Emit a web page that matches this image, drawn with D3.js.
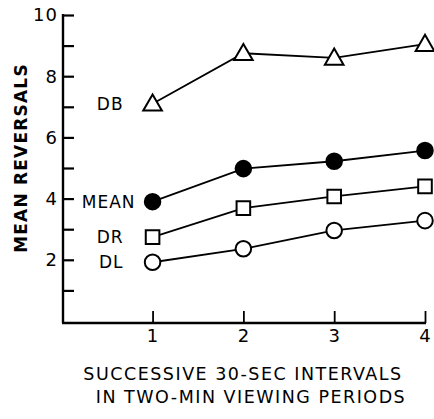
<!DOCTYPE html>
<html lang="en">
<head>
  <meta charset="UTF-8">
  <script src="https://d3js.org/d3.v7.min.js"></script>
  <title>reversals</title>
  <style>
    body { margin: 0; background: #fff; }
    text { font-family: "DejaVu Sans", sans-serif; fill: #000; }
  </style>
</head>
<body>
</body>
<script>
  // data
  let intervals = [1, 2, 3, 4]
  let seriesNames = ['DB', 'MEAN', 'DR', 'DL']
  let dbValues = [7.1, 8.75, 8.6, 9.05]
  let meanValues = [3.9, 4.98, 5.22, 5.57]
  let drValues = [2.74, 3.69, 4.07, 4.4]
  let dlValues = [1.92, 2.36, 2.96, 3.28]
  let yTickLabels = [2, 4, 6, 8, 10]
  let xTitle = ['SUCCESSIVE 30-SEC INTERVALS', 'IN TWO-MIN VIEWING PERIODS']
  let yTitle = 'MEAN REVERSALS'

  let width = 434
  let height = 419

  let svg = d3.select('body')
    .append('svg')
    .attr('width', width)
    .attr('height', height)

  let x = d3.scaleLinear()
    .domain([0.3, 4])
    .range([89, 425])

  let y = d3.scaleLinear()
    .domain([0, 10])
    .range([321, 15])

  let x0 = 63

  // y axis: inward ticks every unit, labels on even values
  let yAxis = d3.axisRight(y)
    .tickValues(d3.range(1, 11))
    .tickSize(11)
    .tickFormat('')
  let gy = svg.append('g')
    .attr('transform', `translate(${x0},0)`)
    .call(yAxis)
  gy.select('.domain').remove()
  gy.selectAll('.tick line').attr('stroke-width', 2.2)

  svg.append('line')
    .attr('x1', x0).attr('x2', x0)
    .attr('y1', y(10) - 1).attr('y2', 323)
    .attr('stroke', '#000').attr('stroke-width', 2.4)

  svg.selectAll('.ylab')
    .data(yTickLabels)
    .enter()
    .append('text')
    .attr('class', 'ylab')
    .attr('x', x0 - 5)
    .attr('y', d => y(d))
    .attr('dy', '0.36em')
    .attr('text-anchor', 'end')
    .attr('font-size', 18)
    .attr('letter-spacing', 1)
    .text(d => d)

  // x axis: inward ticks
  let xAxis = d3.axisTop(x)
    .tickValues(intervals)
    .tickSize(12)
    .tickFormat('')
  let gx = svg.append('g')
    .attr('transform', 'translate(0,323)')
    .call(xAxis)
  gx.select('.domain').remove()
  gx.selectAll('.tick line').attr('stroke-width', 1.8)

  svg.append('line')
    .attr('x1', x0 - 1).attr('x2', x(4) + 1)
    .attr('y1', 323).attr('y2', 323)
    .attr('stroke', '#000').attr('stroke-width', 2.4)

  svg.selectAll('.xlab')
    .data(intervals)
    .enter()
    .append('text')
    .attr('class', 'xlab')
    .attr('x', d => x(d))
    .attr('y', 342)
    .attr('text-anchor', 'middle')
    .attr('font-size', 18)
    .text(d => d)

  // axis titles
  svg.selectAll('.xtitle')
    .data(xTitle)
    .enter()
    .append('text')
    .attr('class', 'xtitle')
    .attr('x', (d, i) => i === 0 ? 243 : 251)
    .attr('y', (d, i) => 380 + i * 23)
    .attr('text-anchor', 'middle')
    .attr('font-size', 17.5)
    .attr('letter-spacing', 1.5)
    .text(d => d)

  svg.append('text')
    .attr('transform', 'translate(27,158) rotate(-90)')
    .attr('text-anchor', 'middle')
    .attr('font-size', 17)
    .attr('font-weight', 'bold')
    .attr('letter-spacing', 1.2)
    .text(yTitle)

  // series
  let series = [
    { name: seriesNames[0], values: dbValues, shape: 'triangle', fill: '#fff' },
    { name: seriesNames[1], values: meanValues, shape: 'circle', fill: '#000' },
    { name: seriesNames[2], values: drValues, shape: 'square', fill: '#fff' },
    { name: seriesNames[3], values: dlValues, shape: 'circle', fill: '#fff' }
  ]

  let line = d3.line()
    .x((d, i) => x(intervals[i]))
    .y(d => y(d))

  let symbols = {
    triangle: d3.symbol().type(d3.symbolTriangle).size(150),
    circle: d3.symbol().type(d3.symbolCircle).size(190),
    square: d3.symbol().type(d3.symbolSquare).size(185)
  }

  series.forEach(s => {
    svg.append('path')
      .attr('d', line(s.values))
      .attr('fill', 'none')
      .attr('stroke', '#000')
      .attr('stroke-width', 1.8)

    svg.selectAll(null)
      .data(s.values)
      .enter()
      .append('path')
      .attr('transform', (d, i) => `translate(${x(intervals[i])},${y(d) + (s.shape === 'triangle' ? 1.5 : 0)})`)
      .attr('d', symbols[s.shape]())
      .attr('fill', s.fill)
      .attr('stroke', '#000')
      .attr('stroke-width', 2)

    // series label to the left of first point
    svg.append('text')
      .attr('x', x(intervals[0]) - (s.name === 'MEAN' ? 17 : 29))
      .attr('y', y(s.values[0]))
      .attr('dy', '0.36em')
      .attr('text-anchor', 'end')
      .attr('font-size', 17)
      .attr('letter-spacing', 1)
      .text(s.name)
  })
</script>
</html>
